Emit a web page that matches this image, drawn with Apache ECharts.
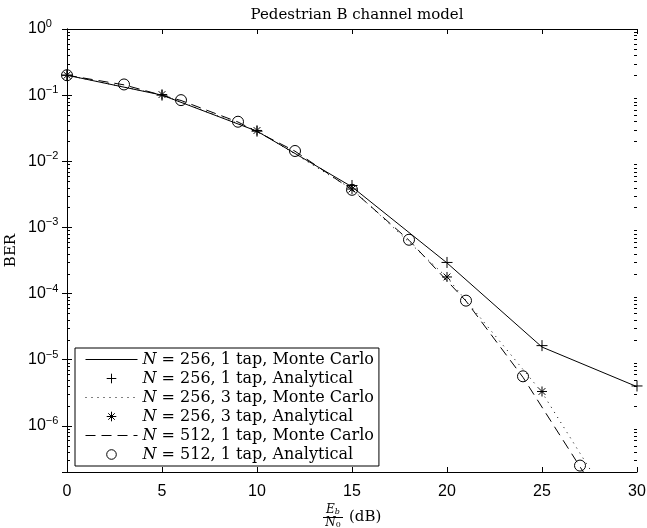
<!DOCTYPE html>
<html>
<head>
<meta charset="utf-8">
<script src="https://cdn.jsdelivr.net/npm/echarts@6/dist/echarts.min.js"></script>
<style>
  html, body { margin: 0; padding: 0; background: #fff; }
  #chart { width: 647px; height: 528px; }
</style>
</head>
<body>
<div id="chart"></div>
<script>
// Eb/N0 (dB) and BER per curve
const mc256t1X = [0, 5, 10, 15, 20, 25, 30];
const mc256t1Y = [0.2, 0.1, 0.0285, 0.0041, 2.9e-4, 1.55e-5, 3.9e-6];
const an256t1X = [0, 5, 10, 15, 20, 25, 30];
const an256t1Y = [0.2, 0.1, 0.0285, 0.0043, 2.95e-4, 1.63e-5, 4.0e-6];
const mc256t3X = [0, 5, 10, 15, 20, 25, 30];
const mc256t3Y = [0.2, 0.101, 0.029, 0.0038, 1.75e-4, 3.2e-6, 1.6e-8];
const an256t3X = [0, 5, 10, 15, 20, 25];
const an256t3Y = [0.2, 0.102, 0.0292, 0.0038, 1.78e-4, 3.3e-6];
const mc512t1X = [0, 3, 6, 9, 12, 15, 18, 21, 24, 27, 30];
const mc512t1Y = [0.2, 0.143, 0.083, 0.0392, 0.0142, 0.0037, 6.4e-4, 7.7e-5, 5.4e-6, 2.4e-7, 1.1e-8];
const an512t1X = [0, 3, 6, 9, 12, 15, 18, 21, 24, 27];
const an512t1Y = [0.2, 0.145, 0.084, 0.0396, 0.0143, 0.0037, 6.5e-4, 7.8e-5, 5.6e-6, 2.5e-7];

const seriesNames = [
  'N = 256, 1 tap, Monte Carlo',
  'N = 256, 1 tap, Analytical',
  'N = 256, 3 tap, Monte Carlo',
  'N = 256, 3 tap, Analytical',
  'N = 512, 1 tap, Monte Carlo',
  'N = 512, 1 tap, Analytical'
];

const xMin = 0, xMax = 30, xStep = 5;
const yMin = 2e-7, yMax = 1;

// minor ticks of the log axis (2..9 x 10^k)
const minorTicks = [];
for (let e = -7; e < 0; e++) {
  for (let k = 2; k <= 9; k++) {
    const v = k * Math.pow(10, e);
    if (v > yMin && v < yMax) minorTicks.push(v);
  }
}

const serif = 'DejaVu Serif';
const sans = 'Liberation Sans';

const plusPath = 'path://M5,0L5,10M0,5L10,5';
const starPath = 'path://M5,0L5,10M0,5L10,5M1.6,1.6L8.4,8.4M8.4,1.6L1.6,8.4';

const pairs = (xs, ys) => xs.map((x, i) => [x, ys[i]]);

const mcLine = (name, xs, ys, type) => ({
  type: 'line',
  name,
  data: pairs(xs, ys),
  symbol: 'none',
  color: '#000',
  lineStyle: { color: '#000', width: 1, type },
  z: 2
});

const marker = (name, xs, ys, symbol, size) => ({
  type: 'line',
  name,
  data: pairs(xs, ys),
  symbol,
  symbolSize: size,
  showAllSymbol: true,
  itemStyle: { color: 'none', borderColor: '#000', borderWidth: 1 },
  lineStyle: { width: 0, opacity: 0 },
  z: 3
});

const chart = echarts.init(document.getElementById('chart'));

const option = {
  backgroundColor: '#fff',
  animation: false,
  title: {
    text: 'Pedestrian B channel model',
    left: 352,
    top: 3,
    textAlign: 'center',
    textStyle: { fontFamily: serif, fontSize: 15, fontWeight: 'normal', color: '#000' }
  },
  grid: { left: 67, right: 10, top: 29, bottom: 56, containLabel: false, outerBoundsMode: 'none' },
  legend: {
    orient: 'vertical',
    left: 75,
    top: 348,
    padding: [2, 5, 2, 10],
    itemWidth: 52,
    itemHeight: 12,
    itemGap: 0,
    selectedMode: false,
    backgroundColor: '#fff',
    borderColor: '#000',
    borderWidth: 1,
    borderRadius: 0,
    itemStyle: { borderWidth: 1 },
    lineStyle: { width: 1 },
    textStyle: {
      fontFamily: serif, fontSize: 16, color: '#000', lineHeight: 19,
      rich: { i: { fontFamily: serif, fontSize: 16, fontStyle: 'italic', color: '#000', lineHeight: 19 } }
    },
    formatter: name => '{i|N}' + name.slice(1),
    data: [
      { name: seriesNames[0], itemStyle: { opacity: 0 } },
      { name: seriesNames[1], lineStyle: { opacity: 0, width: 0 } },
      { name: seriesNames[2], itemStyle: { opacity: 0 } },
      { name: seriesNames[3], lineStyle: { opacity: 0, width: 0 } },
      { name: seriesNames[4], itemStyle: { opacity: 0 } },
      { name: seriesNames[5], lineStyle: { opacity: 0, width: 0 } }
    ]
  },
  xAxis: [{
    type: 'value',
    min: xMin, max: xMax, interval: xStep,
    axisLine: { onZero: false, lineStyle: { color: '#000', width: 1 } },
    axisTick: { inside: true, length: 5, lineStyle: { color: '#000' } },
    axisLabel: { margin: 12, color: '#000', fontFamily: sans, fontSize: 16 },
    splitLine: { show: false }
  }, {
    type: 'value', position: 'top',
    min: xMin, max: xMax, interval: xStep,
    axisLine: { onZero: false, lineStyle: { color: '#000', width: 1 } },
    axisTick: { inside: true, length: 5, lineStyle: { color: '#000' } },
    axisLabel: { show: false },
    splitLine: { show: false }
  }],
  yAxis: [{
    type: 'log',
    min: yMin, max: yMax,
    name: 'BER',
    nameLocation: 'middle',
    nameGap: 48,
    nameMoveOverlap: false,
    nameTextStyle: { fontFamily: serif, fontSize: 15, color: '#000' },
    axisLine: { lineStyle: { color: '#000', width: 1 } },
    axisTick: { inside: true, length: 5, lineStyle: { color: '#000' } },
    axisLabel: {
      showMinLabel: false,
      align: 'left',
      margin: 39,
      color: '#000',
      formatter: v => {
        const e = Math.round(Math.log10(v));
        if (Math.abs(Math.log10(v) - e) > 1e-6) return '';
        return '{b|10}{s|' + (e < 0 ? '\u2212' + (-e) : e) + '}';
      },
      rich: {
        b: { fontFamily: sans, fontSize: 16, color: '#000' },
        s: { fontFamily: sans, fontSize: 11, color: '#000', padding: [0, 0, 10, 0] }
      }
    },
    splitLine: { show: false }
  }, {
    type: 'log', position: 'right',
    min: yMin, max: yMax,
    axisLine: { lineStyle: { color: '#000', width: 1 } },
    axisTick: { inside: true, length: 5, lineStyle: { color: '#000' } },
    axisLabel: { show: false },
    splitLine: { show: false }
  }],
  graphic: [
    { type: 'text', x: 333, y: 510, style: { text: '{i|E}{s|b}', align: 'center', verticalAlign: 'middle',
      rich: { i: { fontFamily: serif, fontSize: 12, fontStyle: 'italic', fill: '#000' },
              s: { fontFamily: serif, fontSize: 8, fontStyle: 'italic', fill: '#000', padding: [4, 0, 0, 0] } } } },
    { type: 'line', shape: { x1: 323, y1: 517.5, x2: 343, y2: 517.5 }, style: { stroke: '#000', lineWidth: 1 } },
    { type: 'text', x: 333, y: 523, style: { text: '{i|N}{s|0}', align: 'center', verticalAlign: 'middle',
      rich: { i: { fontFamily: serif, fontSize: 12, fontStyle: 'italic', fill: '#000' },
              s: { fontFamily: serif, fontSize: 8, fill: '#000', padding: [4, 0, 0, 0] } } } },
    { type: 'text', x: 349, y: 517, style: { text: '(dB)', align: 'left', verticalAlign: 'middle',
      font: '15px "DejaVu Serif"', fill: '#000' } }
  ],
  series: [
    mcLine(seriesNames[0], mc256t1X, mc256t1Y, 'solid'),
    marker(seriesNames[1], an256t1X, an256t1Y, plusPath, 11),
    mcLine(seriesNames[2], mc256t3X, mc256t3Y, [1, 5]),
    marker(seriesNames[3], an256t3X, an256t3Y, starPath, 10),
    mcLine(seriesNames[4], mc512t1X, mc512t1Y, [10, 6]),
    marker(seriesNames[5], an512t1X, an512t1Y, 'circle', 11),
    {
      type: 'custom',
      name: 'minorTicks',
      silent: true,
      clip: false,
      data: minorTicks.map(v => [xMin, v]),
      encode: { x: 0, y: 1 },
      renderItem: (params, api) => {
        const v = api.value(1);
        const l = api.coord([xMin, v]);
        const r = api.coord([xMax, v]);
        const y = Math.round(l[1]) + 0.5;
        return {
          type: 'group',
          children: [
            { type: 'line', shape: { x1: l[0], y1: y, x2: l[0] + 3, y2: y }, style: { stroke: '#000', lineWidth: 1 } },
            { type: 'line', shape: { x1: r[0] - 3, y1: y, x2: r[0], y2: y }, style: { stroke: '#000', lineWidth: 1 } }
          ]
        };
      }
    }
  ]
};

chart.setOption(option);
</script>
</body>
</html>
